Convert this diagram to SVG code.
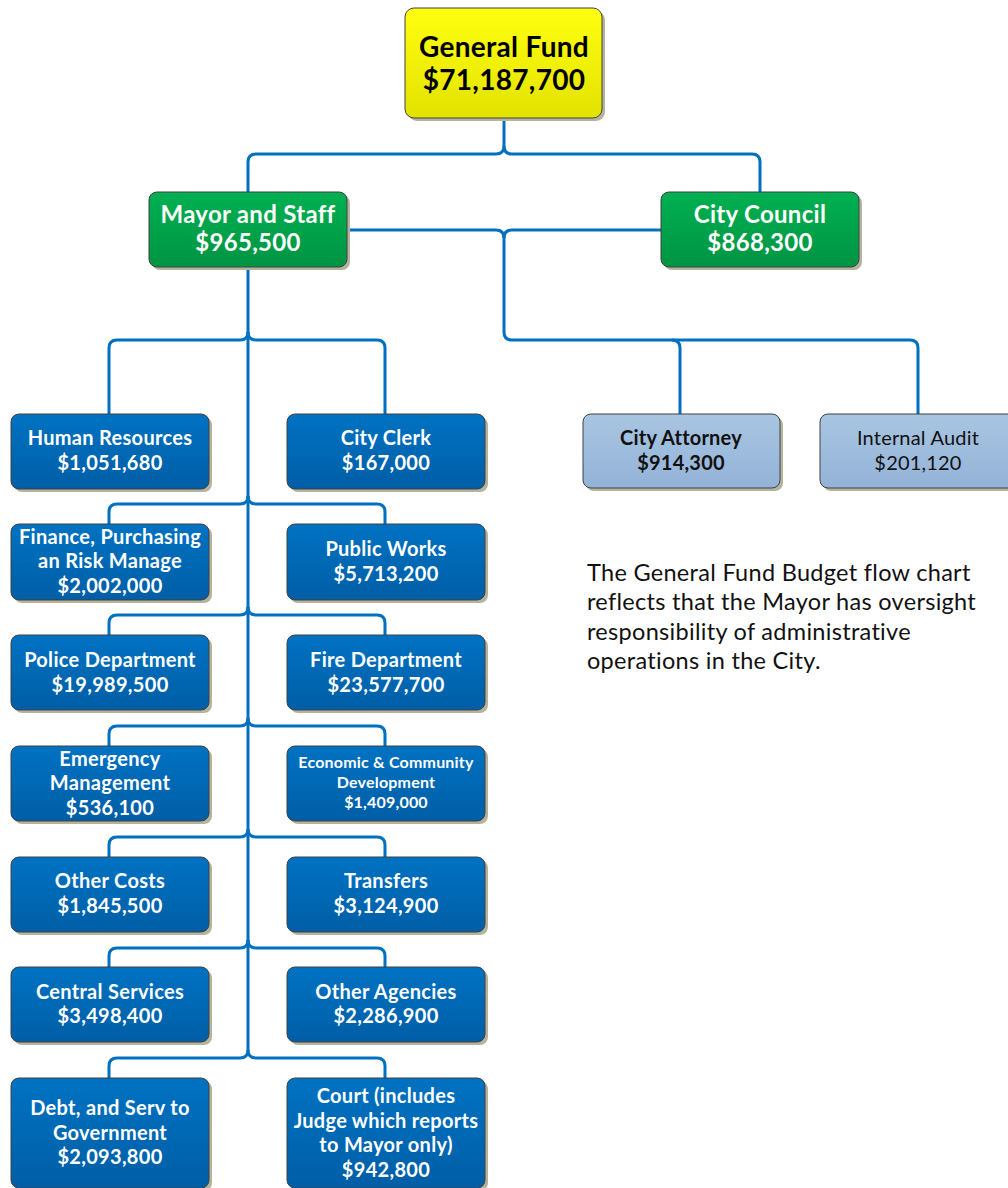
<svg xmlns="http://www.w3.org/2000/svg" width="1008" height="1188" viewBox="0 0 1008 1188">
  <defs>
    <linearGradient id="gYellow" x1="0" y1="0" x2="0" y2="1">
      <stop offset="0" stop-color="#FFFF10"/>
      <stop offset="1" stop-color="#E2E200"/>
    </linearGradient>
    <linearGradient id="gGreen" x1="0" y1="0" x2="0" y2="1">
      <stop offset="0" stop-color="#00B050"/>
      <stop offset="1" stop-color="#009444"/>
    </linearGradient>
    <linearGradient id="gBlue" x1="0" y1="0" x2="0" y2="1">
      <stop offset="0" stop-color="#0072C2"/>
      <stop offset="1" stop-color="#005EA6"/>
    </linearGradient>
    <linearGradient id="gLight" x1="0" y1="0" x2="0" y2="1">
      <stop offset="0" stop-color="#A9C5E2"/>
      <stop offset="1" stop-color="#93B3D7"/>
    </linearGradient>
    <style>
      .shadow { fill: #B4B49E; }
      .box { stroke: #404040; stroke-width: 1; }
      .yellow { fill: url(#gYellow); }
      .green { fill: url(#gGreen); }
      .blue { fill: url(#gBlue); }
      .light { fill: url(#gLight); }
      text { font-family: Lato, "Open Sans", "Liberation Sans", sans-serif; text-anchor: middle; }
      .t-top { font-size: 28px; font-weight: 700; fill: #000; letter-spacing: 0.3px; }
      .t-green { font-size: 24px; font-weight: 700; fill: #fff; letter-spacing: 0.3px; }
      .t-blue { font-size: 20px; font-weight: 700; fill: #fff; letter-spacing: 0.3px; }
      .t-small { font-size: 16px; font-weight: 700; fill: #fff; letter-spacing: 0.2px; }
      .t-dark { font-size: 20px; fill: #111; letter-spacing: 0.2px; }
      .b { font-weight: 700; }
      .note { font-size: 23.5px; fill: #111; text-anchor: start; letter-spacing: 0.3px; }
      .wire { fill: none; stroke: #0070C0; stroke-width: 3; stroke-linejoin: round; }
    </style>
  </defs>

  <rect width="1008" height="1188" fill="#fff"/>

  <!-- connectors -->
  <g id="connectors" class="wire">
    <!-- General Fund to its two children -->
    <path d="M504,118 V146 Q504,154 496,154 H256 Q248,154 248,162 V192"/>
    <path d="M504,146 Q504,154 512,154 H752 Q760,154 760,162 V192"/>
    <!-- Mayor / Council to the independent offices -->
    <path d="M347,230 H496 Q504,230 504,238 V332 Q504,340 512,340 H672 Q680,340 680,348 V414"/>
    <path d="M661,230 H512 Q504,230 504,238"/>
    <path d="M672,340 H910 Q918,340 918,348 V414"/>
    <!-- Mayor trunk -->
    <path d="M248,267 V1050 Q248,1058 240,1058 H117 Q109,1058 109,1066 V1078"/>
    <path d="M248,1050 Q248,1058 256,1058 H377 Q385,1058 385,1066 V1078"/>
    <!-- branches, one pair per row -->
    <path d="M248,332 Q248,340 240,340 H117 Q109,340 109,348 V414"/>
    <path d="M248,332 Q248,340 256,340 H377 Q385,340 385,348 V414"/>
    <path d="M248,496 Q248,504 240,504 H117 Q109,504 109,512 V524"/>
    <path d="M248,496 Q248,504 256,504 H377 Q385,504 385,512 V524"/>
    <path d="M248,607 Q248,615 240,615 H117 Q109,615 109,623 V635"/>
    <path d="M248,607 Q248,615 256,615 H377 Q385,615 385,623 V635"/>
    <path d="M248,718 Q248,726 240,726 H117 Q109,726 109,734 V746"/>
    <path d="M248,718 Q248,726 256,726 H377 Q385,726 385,734 V746"/>
    <path d="M248,829 Q248,837 240,837 H117 Q109,837 109,845 V857"/>
    <path d="M248,829 Q248,837 256,837 H377 Q385,837 385,845 V857"/>
    <path d="M248,940 Q248,948 240,948 H117 Q109,948 109,956 V967"/>
    <path d="M248,940 Q248,948 256,948 H377 Q385,948 385,956 V967"/>
  </g>

  <!-- root -->
  <g id="general-fund">
    <rect class="shadow" x="408" y="11" width="197" height="110" rx="9"/>
    <rect class="box yellow" x="405" y="8" width="197" height="110" rx="9"/>
    <text class="t-top" x="504" y="57">General Fund</text>
    <text class="t-top" x="504" y="90">$71,187,700</text>
  </g>

  <g id="mayor">
    <rect class="shadow" x="152" y="195" width="198" height="75" rx="8"/>
    <rect class="box green" x="149" y="192" width="198" height="75" rx="8"/>
    <text class="t-green" x="248" y="223">Mayor and Staff</text>
    <text class="t-green" x="248" y="251">$965,500</text>
  </g>

  <g id="city-council">
    <rect class="shadow" x="664" y="195" width="198" height="75" rx="8"/>
    <rect class="box green" x="661" y="192" width="198" height="75" rx="8"/>
    <text class="t-green" x="760" y="223">City Council</text>
    <text class="t-green" x="760" y="251">$868,300</text>
  </g>

  <g id="city-attorney">
    <rect class="shadow" x="586" y="417" width="197" height="74" rx="8"/>
    <rect class="box light" x="583" y="414" width="197" height="74" rx="8"/>
    <text class="t-dark b" x="681" y="445">City Attorney</text>
    <text class="t-dark b" x="681" y="470">$914,300</text>
  </g>

  <g id="internal-audit">
    <rect class="shadow" x="823" y="417" width="197" height="74" rx="8"/>
    <rect class="box light" x="820" y="414" width="197" height="74" rx="8"/>
    <text class="t-dark" x="918" y="445">Internal Audit</text>
    <text class="t-dark" x="918" y="470">$201,120</text>
  </g>

  <!-- departments under the Mayor -->
  <g id="human-resources">
    <rect class="shadow" x="14" y="417" width="198" height="75" rx="8"/>
    <rect class="box blue" x="11" y="414" width="198" height="75" rx="8"/>
    <text class="t-blue" x="110" y="445">Human Resources</text>
    <text class="t-blue" x="110" y="470">$1,051,680</text>
  </g>

  <g id="city-clerk">
    <rect class="shadow" x="290" y="417" width="198" height="75" rx="8"/>
    <rect class="box blue" x="287" y="414" width="198" height="75" rx="8"/>
    <text class="t-blue" x="386" y="445">City Clerk</text>
    <text class="t-blue" x="386" y="470">$167,000</text>
  </g>

  <g id="finance">
    <rect class="shadow" x="14" y="527" width="198" height="76" rx="8"/>
    <rect class="box blue" x="11" y="524" width="198" height="76" rx="8"/>
    <text class="t-blue" x="110" y="544">Finance, Purchasing</text>
    <text class="t-blue" x="110" y="568">an Risk Manage</text>
    <text class="t-blue" x="110" y="593">$2,002,000</text>
  </g>

  <g id="public-works">
    <rect class="shadow" x="290" y="527" width="198" height="76" rx="8"/>
    <rect class="box blue" x="287" y="524" width="198" height="76" rx="8"/>
    <text class="t-blue" x="386" y="556">Public Works</text>
    <text class="t-blue" x="386" y="581">$5,713,200</text>
  </g>

  <g id="police">
    <rect class="shadow" x="14" y="638" width="198" height="75" rx="8"/>
    <rect class="box blue" x="11" y="635" width="198" height="75" rx="8"/>
    <text class="t-blue" x="110" y="667">Police Department</text>
    <text class="t-blue" x="110" y="692">$19,989,500</text>
  </g>

  <g id="fire">
    <rect class="shadow" x="290" y="638" width="198" height="75" rx="8"/>
    <rect class="box blue" x="287" y="635" width="198" height="75" rx="8"/>
    <text class="t-blue" x="386" y="667">Fire Department</text>
    <text class="t-blue" x="386" y="692">$23,577,700</text>
  </g>

  <g id="emergency">
    <rect class="shadow" x="14" y="749" width="198" height="75" rx="8"/>
    <rect class="box blue" x="11" y="746" width="198" height="75" rx="8"/>
    <text class="t-blue" x="110" y="766">Emergency</text>
    <text class="t-blue" x="110" y="790">Management</text>
    <text class="t-blue" x="110" y="815">$536,100</text>
  </g>

  <g id="economic">
    <rect class="shadow" x="290" y="749" width="198" height="75" rx="8"/>
    <rect class="box blue" x="287" y="746" width="198" height="75" rx="8"/>
    <text class="t-small" x="386" y="768">Economic &amp; Community</text>
    <text class="t-small" x="386" y="788">Development</text>
    <text class="t-small" x="386" y="808">$1,409,000</text>
  </g>

  <g id="other-costs">
    <rect class="shadow" x="14" y="860" width="198" height="75" rx="8"/>
    <rect class="box blue" x="11" y="857" width="198" height="75" rx="8"/>
    <text class="t-blue" x="110" y="888">Other Costs</text>
    <text class="t-blue" x="110" y="913">$1,845,500</text>
  </g>

  <g id="transfers">
    <rect class="shadow" x="290" y="860" width="198" height="75" rx="8"/>
    <rect class="box blue" x="287" y="857" width="198" height="75" rx="8"/>
    <text class="t-blue" x="386" y="888">Transfers</text>
    <text class="t-blue" x="386" y="913">$3,124,900</text>
  </g>

  <g id="central-services">
    <rect class="shadow" x="14" y="970" width="198" height="75" rx="8"/>
    <rect class="box blue" x="11" y="967" width="198" height="75" rx="8"/>
    <text class="t-blue" x="110" y="999">Central Services</text>
    <text class="t-blue" x="110" y="1023">$3,498,400</text>
  </g>

  <g id="other-agencies">
    <rect class="shadow" x="290" y="970" width="198" height="75" rx="8"/>
    <rect class="box blue" x="287" y="967" width="198" height="75" rx="8"/>
    <text class="t-blue" x="386" y="999">Other Agencies</text>
    <text class="t-blue" x="386" y="1023">$2,286,900</text>
  </g>

  <g id="debt">
    <rect class="shadow" x="14" y="1081" width="198" height="110" rx="8"/>
    <rect class="box blue" x="11" y="1078" width="198" height="110" rx="8"/>
    <text class="t-blue" x="110" y="1115">Debt, and Serv to</text>
    <text class="t-blue" x="110" y="1140">Government</text>
    <text class="t-blue" x="110" y="1164">$2,093,800</text>
  </g>

  <g id="court">
    <rect class="shadow" x="290" y="1081" width="198" height="110" rx="8"/>
    <rect class="box blue" x="287" y="1078" width="198" height="110" rx="8"/>
    <text class="t-blue" x="386" y="1103">Court (includes</text>
    <text class="t-blue" x="386" y="1128">Judge which reports</text>
    <text class="t-blue" x="386" y="1152">to Mayor only)</text>
    <text class="t-blue" x="386" y="1177">$942,800</text>
  </g>

  <!-- explanatory note -->
  <g id="note">
    <text class="note" x="587" y="581">The General Fund Budget flow chart</text>
    <text class="note" x="587" y="610">reflects that the Mayor has oversight</text>
    <text class="note" x="587" y="640">responsibility of administrative</text>
    <text class="note" x="587" y="669">operations in the City.</text>
  </g>
</svg>
